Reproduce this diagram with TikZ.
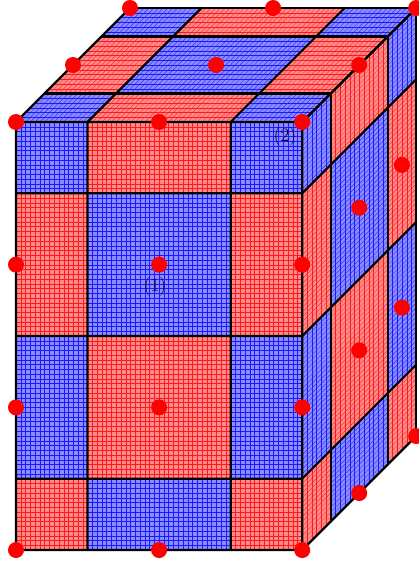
\documentclass[tikz,border=0pt]{standalone}
\usepackage{tikz}
\usetikzlibrary{calc}

\newcommand{\meshcell}[6]{%
  \fill[#6!45] (#1) -- ($(#1)+#4*(#2)$) -- ($(#1)+#4*(#2)+#5*(#3)$) -- ($(#1)+#5*(#3)$) -- cycle;
  \pgfmathtruncatemacro\nua{#4-1}
  \pgfmathtruncatemacro\nva{#5-1}
  \foreach \k in {1,...,\nua}
    \draw[meshline, #6!90] ($(#1)+\k*(#2)$) -- ($(#1)+\k*(#2)+#5*(#3)$);
  \foreach \k in {1,...,\nva}
    \draw[meshline, #6!90] ($(#1)+\k*(#3)$) -- ($(#1)+#4*(#2)+\k*(#3)$);
}
\newcommand{\pickcol}[2]{\ifodd\numexpr#1+#2\relax\def\pcol{red}\else\def\pcol{blue}\fi}

\begin{document}
\begin{tikzpicture}[x={(4.77pt,0)}, y={(0,-4.756pt)}, z={(4.75pt,4.75pt)},
    meshline/.style={line width=0.3pt},
    edge/.style={line width=2.2pt, black, line cap=round},
    dot/.style={circle, fill=red, inner sep=0pt, minimum size=16pt},
    lbl/.style={font=\fontsize{19}{22}\selectfont, inner sep=0pt}]
  \useasboundingbox (-16pt,122pt) rectangle (403pt,-441pt);

  % front
  \foreach \xa/\xn [count=\ci] in {0/15,15/30,45/15}
    \foreach \ya/\yn [count=\cj] in {0/15,15/30,45/30,75/15} {
      \pickcol{\ci}{\cj}
      \meshcell{\xa,\ya,0}{1,0,0}{0,1,0}{\xn}{\yn}{\pcol}
    }
  % top
  \foreach \xa/\xn [count=\ci] in {0/15,15/30,45/15}
    \foreach \za/\zn [count=\cj] in {0/6,6/12,18/6} {
      \pickcol{\ci}{\cj}
      \meshcell{\xa,0,\za}{1,0,0}{0,0,1}{\xn}{\zn}{\pcol}
    }
  % side
  \foreach \za/\zn [count=\ci] in {0/6,6/12,18/6}
    \foreach \ya/\yn [count=\cj] in {0/15,15/30,45/30,75/15} {
      \pickcol{\ci}{\cj}
      \meshcell{60,\ya,\za}{0,0,1}{0,1,0}{\zn}{\yn}{\pcol}
    }

  % block edges
  \foreach \ya in {0,15,45,75,90} {
    \draw[edge] (0,\ya,0) -- (60,\ya,0) -- (60,\ya,24);
  }
  \foreach \xa in {0,15,45,60} {
    \draw[edge] (\xa,90,0) -- (\xa,0,0) -- (\xa,0,24);
  }
  \foreach \za in {6,18,24} {
    \draw[edge] (0,0,\za) -- (60,0,\za) -- (60,90,\za);
  }

  % dots
  \foreach \xa in {0,30,60} {
    \foreach \ya in {0,30,60,90}
      \node[dot] (f\xa-\ya) at (\xa,\ya,0) {};
    \foreach \za in {12,24}
      \node[dot] (t\xa-\za) at (\xa,0,\za) {};
  }
  \foreach \ya/\za in {30/12,60/12,90/12,30/21,60/21,90/24}
    \node[dot] (s\ya-\za) at (60,\ya,\za) {};

  \node[lbl] (one) at (139pt,-165pt) {(1)};
  \node[lbl] (two) at (269pt,-15pt) {(2)};
\end{tikzpicture}
\end{document}
